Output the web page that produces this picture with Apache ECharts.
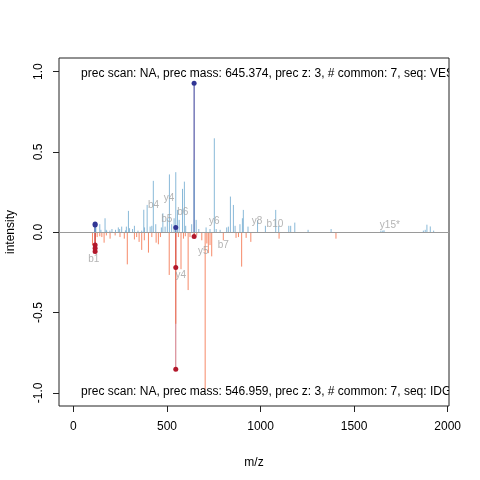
<!DOCTYPE html>
<html>
<head>
<meta charset="utf-8">
<script src="https://cdn.jsdelivr.net/npm/echarts@6/dist/echarts.min.js"></script>
<style>html,body{margin:0;padding:0;background:#fff}#c{width:480px;height:480px}</style>
</head>
<body>
<div id="c"></div>
<script>
// ---- data ----
const topMz  = [116,120,141,147,169,175,178,195,206,225,240,247,258,278,283,294,300,316,326,345,365,376,380,394,410,419,427,440,470,478,
                490,502,513,525,538,547,556,565,583,593,600,632,645,656,670,709,730,753,763,784,819,828,839,855,864,890,903,908,933,984,
                1026,1081,1097,1151,1161,1183,1254,1377,1643,1653,1660,1870,1880,1889,1907,1925];
const topInt = [0.052,0.03,0.05,0.015,0.087,0.015,0.01,0.01,0.02,0.015,0.03,0.02,0.035,0.012,0.035,0.133,0.025,0.02,0.04,0.01,0.01,0.14,0.03,0.17,0.035,0.04,0.32,0.05,0.03,0.118,
                0.035,0.087,0.36,0.05,0.087,0.374,0.139,0.077,0.27,0.315,0.04,0.05,0.45,0.077,0.02,0.03,0.02,0.585,0.02,0.015,0.03,0.035,0.222,0.17,0.04,0.05,0.087,0.139,0.035,0.075,
                0.04,0.139,0.04,0.04,0.04,0.06,0.015,0.02,0.01,0.01,0.012,0.01,0.015,0.047,0.036,0.01];
const botMz  = [102,116,127,141,152,164,176,196,223,249,272,288,326,338,351,365,379,401,419,442,454,465,
                512,547,561,575,588,598,613,623,646,659,686,704,713,721,730,739,801,869,882,899,923,948,1099,1403];
const botInt = [-0.08,-0.06,-0.03,-0.025,-0.03,-0.065,-0.02,-0.04,-0.02,-0.03,-0.04,-0.2,-0.045,-0.03,-0.06,-0.11,-0.05,-0.127,-0.03,-0.065,-0.075,-0.03,
                -0.266,-0.57,-0.03,-0.23,-0.04,-0.025,-0.36,-0.03,-0.02,-0.02,-0.05,-0.98,-0.07,-0.13,-0.08,-0.15,-0.05,-0.035,-0.03,-0.214,-0.035,-0.06,-0.04,-0.04];
const matchTopMz  = [116,116,547,645];
const matchTopInt = [0.052,0.045,0.03,0.928];
const matchBotMz  = [116,116,116,547,547,645];
const matchBotInt = [-0.08,-0.1,-0.12,-0.22,-0.853,-0.027];
const ionText = ['b1','b4','y4','b5','b6','y6','y8','b10','y15*','y4','y5','b7'];
const ionMz   = [109,428,511,499,584,753,981,1077,1691,574,694,801];
const ionInt  = [-0.166,0.166,0.212,0.083,0.125,0.066,0.07,0.052,0.045,-0.27,-0.116,-0.083];
const xTicks = [0,500,1000,1500,2000];
const yTicks = [-1,-0.5,0,0.5,1];
const topInfo = 'prec scan: NA, prec mass: 645.374, prec z: 3, # common: 7, seq: VESTSSEVSLR';
const botInfo = 'prec scan: NA, prec mass: 546.959, prec z: 3, # common: 7, seq: IDGSLNEAFR';
const infoPos = [[41,0.986],[41,-0.99]];

const FONT = 'Liberation Sans, Arial, sans-serif';
function pairs(a,b){return a.map((v,i)=>[v,b[i]]);}
function stick(color, opacity){
  return function(params, api){
    const x = api.value(0), y = api.value(1);
    const p0 = api.coord([x,0]), p1 = api.coord([x,y]);
    return {type:'line', shape:{x1:p0[0],y1:p0[1],x2:p1[0],y2:p1[1]},
            style:{stroke:color, lineWidth:1, opacity:opacity}};
  };
}
const chart = echarts.init(document.getElementById('c'), null, {renderer:'canvas'});
chart.setOption({
  animation:false,
  backgroundColor:'#fff',
  textStyle:{fontFamily:FONT},
  grid:{left:59,right:31,top:58,bottom:74,show:true,borderColor:'#222',borderWidth:1,backgroundColor:'transparent',
        containLabel:false,outerBoundsMode:'none'},
  xAxis:{type:'value',min:-77,max:2007,
    name:'m/z',nameLocation:'middle',nameGap:51,nameTextStyle:{fontSize:12,color:'#000',fontFamily:FONT},
    axisLine:{show:false,onZero:false},splitLine:{show:false},
    axisTick:{show:true,length:6,inside:false,customValues:xTicks,lineStyle:{color:'#222'}},
    axisLabel:{customValues:xTicks,margin:15,fontSize:12,color:'#000',fontFamily:FONT,formatter:v=>String(v)}},
  yAxis:{type:'value',min:-1.082,max:1.085,
    name:'intensity',nameLocation:'middle',nameGap:42,nameRotate:90,nameTextStyle:{fontSize:12,color:'#000',fontFamily:FONT},
    axisLine:{show:false,onZero:false},splitLine:{show:false},
    axisTick:{show:true,length:6,inside:false,customValues:yTicks,lineStyle:{color:'#222'}},
    axisLabel:{customValues:yTicks,rotate:90,margin:14,fontSize:12,color:'#000',fontFamily:FONT,
      formatter:v=>v.toFixed(1)}},
  series:[
    {type:'custom',name:'matchTop',data:pairs(matchTopMz,matchTopInt),renderItem:stick('#313695',1),z:1,
     markLine:{silent:true,symbol:'none',label:{show:false},lineStyle:{color:'#9a9a9a',width:1,type:'solid'},data:[{yAxis:0}]}},
    {type:'custom',name:'matchBot',data:pairs(matchBotMz,matchBotInt),renderItem:stick('#B2182B',0.6),z:1},
    {type:'custom',name:'top',data:pairs(topMz,topInt),renderItem:stick('#74ADD1',0.85),z:2},
    {type:'custom',name:'bottom',data:pairs(botMz,botInt),renderItem:stick('#F46D43',0.8),z:2},
    {type:'scatter',data:pairs(matchTopMz,matchTopInt),symbol:'circle',symbolSize:5,itemStyle:{color:'#313695',opacity:1},z:3},
    {type:'scatter',data:pairs(matchBotMz,matchBotInt),symbol:'circle',symbolSize:5,itemStyle:{color:'#B2182B',opacity:1},z:3},
    {type:'scatter',data:ionMz.map((m,i)=>({name:ionText[i],value:[m,ionInt[i]]})),symbolSize:0,z:4,
     label:{show:true,position:'inside',formatter:p=>p.name,fontSize:10,color:'#a0a0a0',fontFamily:FONT}},
    {type:'custom',clip:true,z:5,data:[[infoPos[0][0],infoPos[0][1],0],[infoPos[1][0],infoPos[1][1],1]],
     renderItem:function(params,api){
       const p = api.coord([api.value(0),api.value(1)]);
       return {type:'text',x:p[0],y:p[1],style:{text:api.value(2)===0?topInfo:botInfo,fontSize:12,fontFamily:FONT,fill:'#000',align:'left',verticalAlign:'middle'}};
     }}
  ]
});
</script>
</body>
</html>
